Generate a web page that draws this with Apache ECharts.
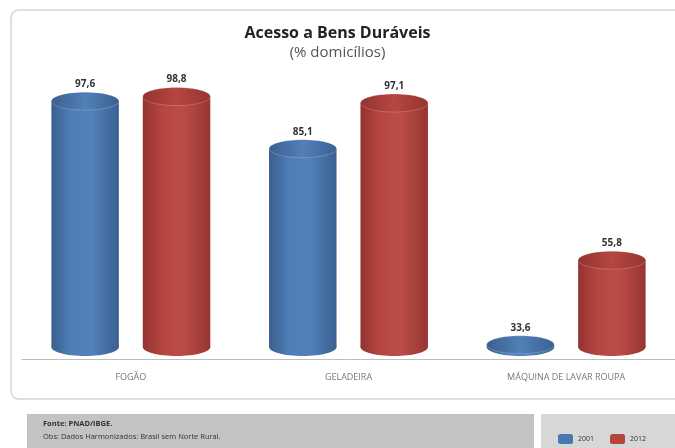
<!DOCTYPE html>
<html>
<head>
<meta charset="utf-8">
<script src="https://cdn.jsdelivr.net/npm/echarts@6/dist/echarts.min.js"></script>
<style>
html,body{margin:0;padding:0;background:#fff;}
#c{width:675px;height:448px;}
</style>
</head>
<body>
<div id="c"></div>
<script>
const categories = ['FOGÃO', 'GELADEIRA', 'MÁQUINA DE LAVAR ROUPA'];
const years = ['2001', '2012'];
const values2001 = [97.6, 85.1, 33.6];
const values2012 = [98.8, 97.1, 55.8];
const yMin = 33;
const yMax = 100;

const FONT = '"Open Sans", "Liberation Sans", sans-serif';
const chart = echarts.init(document.getElementById('c'));

const palettes = {
  '2001': { base: '#4a78b0', top: '#5280b8', stops: ['#3a5f8e', '#4f7eb6', '#5280b8', '#3a6192'] },
  '2012': { base: '#b5443f', top: '#b6463f', stops: ['#933331', '#b74641', '#bb4c46', '#963532'] }
};

function makeRender(side, pal) {
  return function (params, api) {
    const ci = api.value(0);
    const v = api.value(1);
    const topPt = api.coord([ci, v]);
    const basePt = api.coord([ci, yMin]);
    const band = api.size([1, 0])[0];
    const cx = topPt[0] + side * band * 0.21;
    const rx = band * 0.155;
    const ry = 9;
    const ty = topPt[1];
    const by = basePt[1];
    const grad = new echarts.graphic.LinearGradient(0, 0, 1, 0, [
      { offset: 0, color: pal.stops[0] },
      { offset: 0.3, color: pal.stops[1] },
      { offset: 0.6, color: pal.stops[2] },
      { offset: 1, color: pal.stops[3] }
    ]);
    const topGrad = new echarts.graphic.LinearGradient(0, 0, 1, 0, [
      { offset: 0, color: pal.stops[0] },
      { offset: 0.5, color: pal.top },
      { offset: 1, color: pal.stops[3] }
    ]);
    return {
      type: 'group',
      children: [
        { type: 'ellipse', shape: { cx: cx, cy: by, rx: rx, ry: ry }, style: { fill: grad } },
        { type: 'rect', shape: { x: cx - rx, y: ty, width: rx * 2, height: Math.max(0, by - ty) }, style: { fill: grad } },
        { type: 'ellipse', shape: { cx: cx, cy: ty, rx: rx, ry: ry }, style: { fill: topGrad, stroke: 'rgba(255,255,255,0.2)', lineWidth: 1 } },
        { type: 'text', x: cx, y: ty - ry - 3, style: { text: String(v).replace('.', ','), fill: '#333', font: 'bold 10px ' + FONT, align: 'center', verticalAlign: 'bottom' } }
      ]
    };
  };
}

const option = {
  animation: false,
  backgroundColor: '#fff',
  title: {
    text: 'Acesso a Bens Duráveis',
    subtext: '(% domicílios)',
    left: 'center',
    top: 20,
    itemGap: 4,
    textStyle: { fontFamily: FONT, fontSize: 16, fontWeight: 'bold', color: '#222' },
    subtextStyle: { fontFamily: FONT, fontSize: 15, color: '#555' }
  },
  legend: {
    data: years,
    left: 553,
    top: 429,
    itemWidth: 15,
    itemHeight: 10,
    itemGap: 16,
    icon: 'roundRect',
    textStyle: { fontFamily: FONT, fontSize: 7, color: '#333' }
  },
  grid: { left: 22, right: 0, top: 92, bottom: 101 },
  xAxis: {
    type: 'category',
    data: categories,
    offset: 12,
    axisLine: { show: true, lineStyle: { color: '#bdbdbd', width: 1 } },
    axisTick: { show: false },
    axisLabel: { fontFamily: FONT, fontSize: 9, color: '#777', margin: 14 }
  },
  yAxis: {
    type: 'value',
    min: yMin,
    max: yMax,
    show: false,
    splitLine: { show: false }
  },
  graphic: [
    { type: 'rect', shape: { x: 11, y: 10, width: 680, height: 389, r: 8 }, style: { fill: 'none', stroke: '#d5d5d5', lineWidth: 1.5 }, z: -10 },
    { type: 'rect', shape: { x: 27, y: 414, width: 507, height: 40 }, style: { fill: '#c3c3c3' }, z: -10 },
    { type: 'rect', shape: { x: 541, y: 414, width: 140, height: 40 }, style: { fill: '#d7d7d7' }, z: -10 },
    { type: 'text', x: 43, y: 424, style: { text: 'Fonte: PNAD/IBGE.', font: 'bold 7.5px ' + FONT, fill: '#333', verticalAlign: 'middle' } },
    { type: 'text', x: 43, y: 437, style: { text: 'Obs: Dados Harmonizados: Brasil sem Norte Rural.', font: '7.5px ' + FONT, fill: '#333', verticalAlign: 'middle' } }
  ],
  series: [
    {
      name: '2001',
      type: 'custom',
      itemStyle: { color: palettes['2001'].base },
      renderItem: makeRender(-1, palettes['2001']),
      data: values2001.map((v, i) => [i, v])
    },
    {
      name: '2012',
      type: 'custom',
      itemStyle: { color: palettes['2012'].base },
      renderItem: makeRender(1, palettes['2012']),
      data: values2012.map((v, i) => [i, v])
    }
  ]
};
chart.setOption(option);
</script>
</body>
</html>
